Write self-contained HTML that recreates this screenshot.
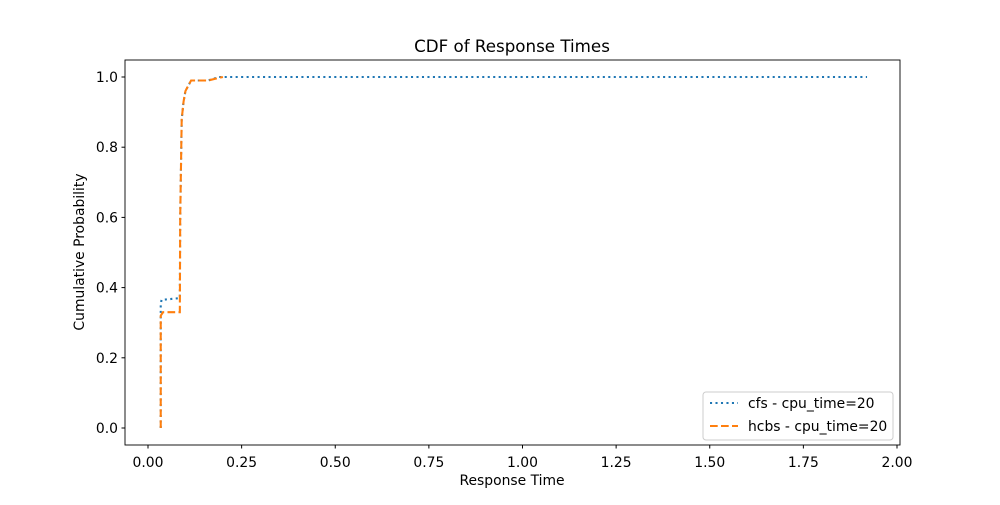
<!DOCTYPE html>
<html><head><meta charset="utf-8"><style>
body{margin:0;background:#fff;font-family:"Liberation Sans","DejaVu Sans",sans-serif;}
svg text{font-family:"DejaVu Sans","Liberation Sans",sans-serif;}
</style></head><body>
<svg id="chart" width="1000" height="500">
<rect width="1000" height="500" fill="#fff"/>
<text x="512" y="52" text-anchor="middle" font-size="16.7">CDF of Response Times</text>
<g id="plot"></g>
<rect x="125" y="60" width="775" height="385" fill="none" stroke="#000" stroke-width="0.9"/>
<g id="xt"></g><g id="yt"></g>
<text x="512" y="485" text-anchor="middle" font-size="13.9">Response Time</text>
<text transform="translate(84,252) rotate(-90)" text-anchor="middle" font-size="13.9">Cumulative Probability</text>
<g>
<rect x="703" y="392" width="190" height="48" rx="3" fill="#fff" stroke="#ccc"/>
<line x1="710" y1="403" x2="738" y2="403" stroke="#1f77b4" stroke-width="2.08" stroke-dasharray="2.08,3.4"/>
<text x="748" y="408" font-size="13.9">cfs - cpu_time=20</text>
<line x1="710" y1="426" x2="738" y2="426" stroke="#ff7f0e" stroke-width="2.08" stroke-dasharray="7.7,3.3"/>
<text x="748" y="431" font-size="13.9">hcbs - cpu_time=20</text>
</g>
</svg>
<script>
const xTicks=[0,0.25,0.5,0.75,1,1.25,1.5,1.75,2];
const xTickLabels=["0.00","0.25","0.50","0.75","1.00","1.25","1.50","1.75","2.00"];
const yTicks=[0,0.2,0.4,0.6,0.8,1];
const yTickLabels=["0.0","0.2","0.4","0.6","0.8","1.0"];
const cfsX=[0.034,0.034,0.036,0.085,0.086,0.09,0.095,0.1,0.115,0.16,0.19,1.92];
const cfsY=[0.0,0.35,0.365,0.37,0.6,0.88,0.93,0.96,0.99,0.99,1.0,1.0];
const hcbsX=[0.034,0.034,0.04,0.085,0.086,0.09,0.095,0.1,0.115,0.16,0.2];
const hcbsY=[0.0,0.32,0.33,0.33,0.6,0.88,0.93,0.96,0.99,0.99,1.0];
const sx=v=>148+v*374.5, sy=v=>428-v*351;
const NS="http://www.w3.org/2000/svg";
const xt=document.getElementById('xt'), yt=document.getElementById('yt'), plot=document.getElementById('plot');
xTicks.forEach((v,i)=>{
 const l=document.createElementNS(NS,'line');
 l.setAttribute('x1',sx(v));l.setAttribute('x2',sx(v));l.setAttribute('y1',445);l.setAttribute('y2',448.5);l.setAttribute('stroke','#000');
 
 
 xt.appendChild(l);
 const t=document.createElementNS(NS,'text');
 t.setAttribute('x',sx(v));t.setAttribute('y',467);t.setAttribute('text-anchor','middle');t.setAttribute('font-size','13.9');
 t.textContent=xTickLabels[i];
 
 
 xt.appendChild(t);
});
yTicks.forEach((v,i)=>{
 const l=document.createElementNS(NS,'line');
 l.setAttribute('x1',121.5);l.setAttribute('x2',125);l.setAttribute('y1',sy(v));l.setAttribute('y2',sy(v));l.setAttribute('stroke','#000');
 
 
 yt.appendChild(l);
 const t=document.createElementNS(NS,'text');
 t.setAttribute('x',118);t.setAttribute('y',sy(v)+5);t.setAttribute('text-anchor','end');t.setAttribute('font-size','13.9');
 t.textContent=yTickLabels[i];
 
 
 yt.appendChild(t);
});
function line(xs,ys,color,dash,name){
 const p=document.createElementNS(NS,'polyline');
 p.setAttribute('points',xs.map((x,i)=>sx(x)+','+sy(ys[i])).join(' '));
 p.setAttribute('fill','none');p.setAttribute('stroke',color);p.setAttribute('stroke-width','2.08');p.setAttribute('stroke-dasharray',dash);
 
 
 plot.appendChild(p);
}
line(cfsX,cfsY,'#1f77b4','2.08,3.4','cfs-line');
line(hcbsX,hcbsY,'#ff7f0e','7.7,3.3','hcbs-line');
</script>
</body></html>
